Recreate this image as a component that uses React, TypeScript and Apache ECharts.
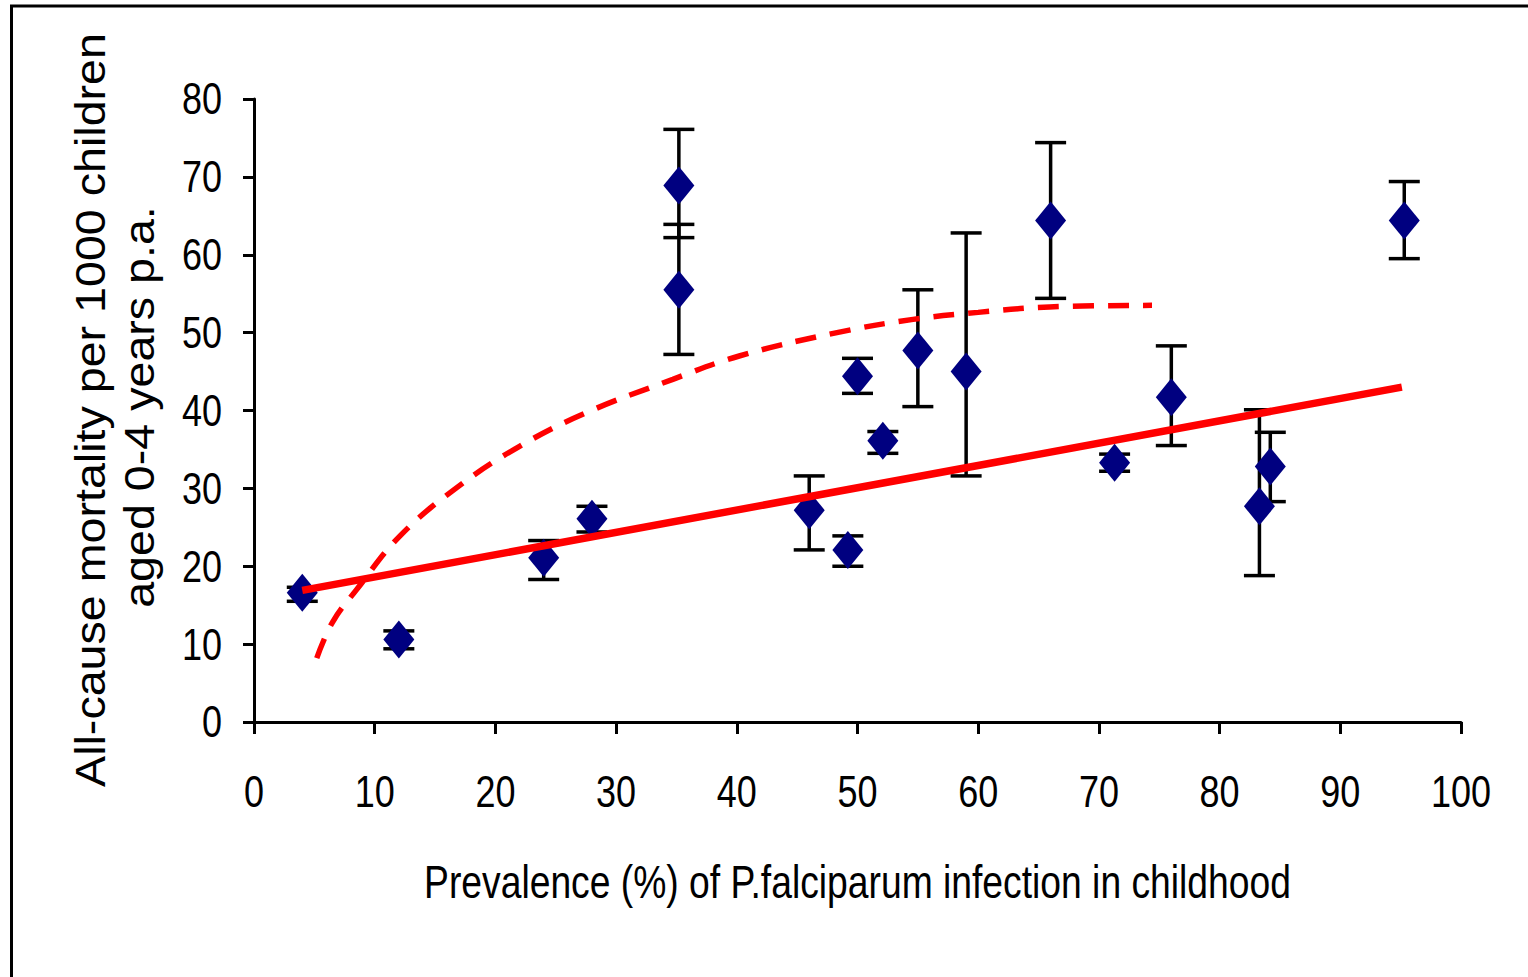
import React, { useEffect, useRef } from "react";
import * as echarts from "echarts";

// Prevalence (%) of P. falciparum infection
const prevalence = [4, 12, 24, 28, 35.2, 35.2, 46, 49.2, 50, 52.1, 55, 59, 66, 71.3, 76, 83.3, 84.2, 95.3];
// All-cause mortality per 1000 children aged 0-4 years p.a.
const mortality = [16.6, 10.6, 21.1, 26.1, 68.9, 55.5, 27.2, 22.1, 44.4, 36.1, 47.7, 45.0, 64.4, 33.3, 41.7, 27.7, 32.8, 64.4];
const errLow = [15.5, 9.4, 18.3, 24.4, 62.2, 47.2, 22.1, 20.0, 42.2, 34.5, 40.5, 31.6, 54.4, 32.2, 35.5, 18.8, 28.3, 59.5];
const errHigh = [17.3, 11.7, 23.3, 27.7, 76.1, 63.9, 31.6, 23.9, 46.7, 37.3, 55.5, 62.8, 74.4, 34.4, 48.3, 40.1, 37.2, 69.4];

// Linear trend (solid red)
const linearX = [4, 95.1];
const linearY = [16.9, 43.0];

// Curved trend (dashed red)
const curveX = [5.2, 6.5, 8.5, 12.1, 16.8, 22.0, 27.5, 34.7, 40.2, 48.3, 54.6, 60.0, 65.9, 74.4];
const curveY = [8.2, 12.8, 17.0, 23.9, 30.1, 35.4, 39.7, 44.0, 47.0, 50.0, 51.7, 52.6, 53.3, 53.5];

const xTickValues = [0, 10, 20, 30, 40, 50, 60, 70, 80, 90, 100];
const yTickValues = [0, 10, 20, 30, 40, 50, 60, 70, 80];
const xTickLabels = xTickValues.map(String);
const yTickLabels = yTickValues.map(String);

const yTitle1 = "All-cause mortality per 1000 children";
const yTitle2 = "aged 0-4 years p.a.";
const xTitle = "Prevalence (%) of P.falciparum infection in childhood";

const SANS = "Liberation Sans, Arial, sans-serif";

export default function App() {
  const ref = useRef<HTMLDivElement>(null);
  useEffect(() => {
    if (!ref.current) return;
    const chart = echarts.init(ref.current, undefined, { renderer: "svg" });
    const points = prevalence.map((x, i) => [x, mortality[i]]);
    const errors = prevalence.map((x, i) => [x, errLow[i], errHigh[i]]);
    const linear = linearX.map((x, i) => [x, linearY[i]]);
    const curve = curveX.map((x, i) => [x, curveY[i]]);

    chart.setOption({
      animation: false,
      backgroundColor: "#ffffff",
      grid: { left: 254, right: 67, top: 99, bottom: 255, containLabel: false },
      xAxis: {
        type: "value",
        min: 0,
        max: 100,
        interval: 10,
        splitLine: { show: false },
        axisLine: { show: true, lineStyle: { color: "#000", width: 3 } },
        axisTick: { show: true, length: 12, lineStyle: { color: "#000", width: 3 } },
        axisLabel: { show: false },
      },
      yAxis: {
        type: "value",
        min: 0,
        max: 80,
        interval: 10,
        splitLine: { show: false },
        axisLine: { show: true, lineStyle: { color: "#000", width: 3 } },
        axisTick: { show: true, length: 11, lineStyle: { color: "#000", width: 3 } },
        axisLabel: { show: false },
      },
      series: [
        {
          type: "custom",
          name: "error",
          data: errors,
          z: 2,
          renderItem: (params: any, api: any) => {
            const x = api.value(0);
            const lo = api.coord([x, api.value(1)]);
            const hi = api.coord([x, api.value(2)]);
            const hw = 15.5;
            const st = { stroke: "#000", lineWidth: 3.5 };
            return {
              type: "group",
              children: [
                { type: "line", shape: { x1: lo[0], y1: lo[1], x2: hi[0], y2: hi[1] }, style: st },
                { type: "line", shape: { x1: lo[0] - hw, y1: lo[1], x2: lo[0] + hw, y2: lo[1] }, style: st },
                { type: "line", shape: { x1: hi[0] - hw, y1: hi[1], x2: hi[0] + hw, y2: hi[1] }, style: st },
              ],
            };
          },
        },
        {
          type: "scatter",
          data: points,
          symbol: "diamond",
          symbolSize: [31, 38],
          itemStyle: { color: "#000080", opacity: 1 },
          z: 3,
        },
        {
          type: "line",
          data: curve,
          smooth: 0.4,
          showSymbol: false,
          symbol: "none",
          lineStyle: { color: "#ff0000", width: 5.5, type: [21, 14], cap: "butt" },
          z: 4,
        },
        {
          type: "line",
          data: linear,
          showSymbol: false,
          symbol: "none",
          lineStyle: { color: "#ff0000", width: 7.5 },
          z: 5,
        },
      ],
    });

    const axisY0 = chart.convertToPixel({ yAxisIndex: 0 }, 0) as number;
    const axisX0 = chart.convertToPixel({ xAxisIndex: 0 }, 0) as number;
    const xMid = ((chart.convertToPixel({ xAxisIndex: 0 }, 0) as number) + (chart.convertToPixel({ xAxisIndex: 0 }, 100) as number)) / 2;

    const textStyle = (text: string, size: number, align: string) => ({
      text,
      fontSize: size,
      fontFamily: SANS,
      fill: "#000",
      textAlign: align,
      textVerticalAlign: "middle",
      align,
      verticalAlign: "middle",
    });

    const xLabels = xTickValues.map((v, i) => ({
      type: "text",
      x: chart.convertToPixel({ xAxisIndex: 0 }, v) as number,
      y: axisY0 + 70,
      scaleX: 0.8,
      silent: true,
      style: textStyle(xTickLabels[i], 45, "center"),
    }));
    const yLabels = yTickValues.map((v, i) => ({
      type: "text",
      x: axisX0 - 32,
      y: chart.convertToPixel({ yAxisIndex: 0 }, v) as number,
      scaleX: 0.8,
      silent: true,
      style: textStyle(yTickLabels[i], 45, "right"),
    }));

    chart.setOption({
      graphic: [
        {
          type: "rect",
          shape: { x: 11.5, y: 6, width: 1700, height: 1200 },
          style: { fill: "none", stroke: "#000", lineWidth: 3 },
          silent: true,
          z: -10,
        },
        ...xLabels,
        ...yLabels,
        {
          type: "text",
          x: xMid,
          y: 882,
          scaleX: 0.81,
          silent: true,
          style: textStyle(xTitle, 46, "center"),
        },
        {
          type: "text",
          x: 90,
          y: 410,
          rotation: Math.PI / 2,
          scaleX: 1.11,
          silent: true,
          style: textStyle(yTitle1, 42, "center"),
        },
        {
          type: "text",
          x: 139,
          y: 407,
          rotation: Math.PI / 2,
          scaleX: 1.11,
          silent: true,
          style: textStyle(yTitle2, 42, "center"),
        },
      ],
    });
    return () => chart.dispose();
  }, []);
  return (
    <div
      ref={ref}
      style={{ position: "fixed", left: 0, top: 0, width: 1528, height: 977, background: "#fff" }}
    />
  );
}
